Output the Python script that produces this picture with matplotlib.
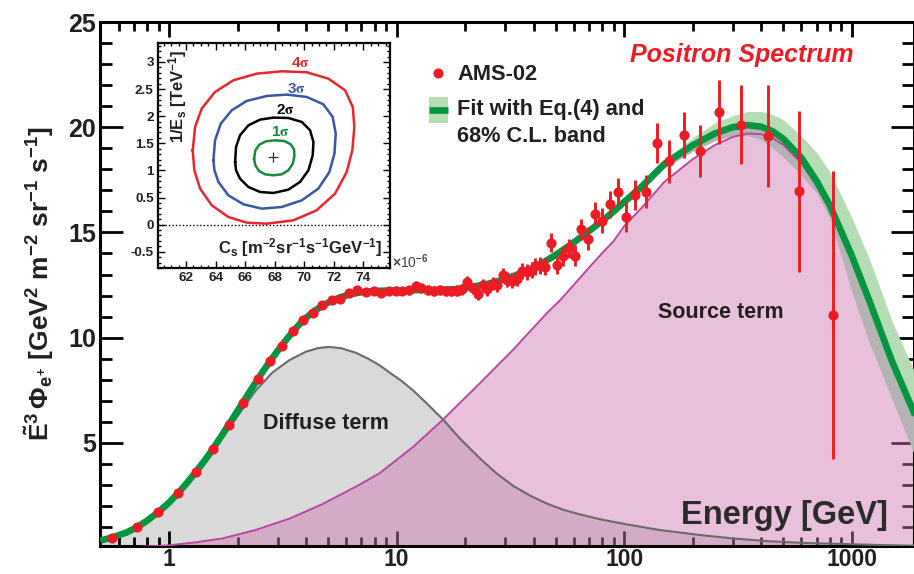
import numpy as np
import matplotlib
matplotlib.use("Agg")
import matplotlib.pyplot as plt
from matplotlib.patches import Rectangle
from matplotlib.ticker import FixedLocator, MultipleLocator, NullFormatter

plt.rcParams["font.family"] = "Liberation Sans"
plt.rcParams["font.weight"] = "bold"
plt.rcParams["axes.labelweight"] = "bold"
plt.rcParams["mathtext.fontset"] = "custom"
plt.rcParams["mathtext.rm"] = "Liberation Sans:bold"
plt.rcParams["mathtext.it"] = "Liberation Sans:bold"
plt.rcParams["mathtext.bf"] = "Liberation Sans:bold"
plt.rcParams["mathtext.sf"] = "Liberation Sans:bold"

# AMS-02 positron points (E in GeV, E^3 flux, error)
ams_e = [0.559, 0.721, 0.894, 1.092, 1.311, 1.562, 1.832, 2.118, 2.449, 2.777,
         3.124, 3.493, 3.866, 4.278, 4.706, 5.188, 5.666, 6.165, 6.733, 7.355,
         7.917, 8.563, 9.250, 9.97, 10.60, 11.33, 12.13, 12.85, 13.74, 14.60,
         15.47, 16.44, 17.42, 18.44, 19.48, 20.41, 21.56, 22.74, 23.85, 24.99,
         26.40, 27.67, 29.22, 30.62, 32.11, 33.68, 35.43, 37.28, 39.21, 40.75,
         42.87, 45.10, 47.54, 50.52, 53.70, 57.25, 60.83, 64.65, 69.20, 74.50,
         80.25, 86.50, 93.80, 102.3, 112.1, 124.7, 139.8, 157.8, 182.5, 215.6,
         260.3, 326.7, 427.9, 588.4, 830.7]
ams_flux = [0.49, 0.98, 1.70, 2.60, 3.60, 4.72, 5.86, 6.90, 8.03, 8.88,
            9.61, 10.31, 10.83, 11.18, 11.54, 11.77, 11.83, 12.10, 12.26, 12.19,
            12.22, 12.13, 12.21, 12.24, 12.22, 12.26, 12.46, 12.38, 12.26, 12.22,
            12.27, 12.22, 12.21, 12.22, 12.30, 12.65, 12.34, 12.07, 12.49, 12.29,
            12.57, 12.49, 12.97, 12.76, 12.70, 12.81, 13.17, 13.13, 13.21, 13.40,
            13.44, 13.38, 14.52, 13.44, 13.87, 14.24, 13.89, 15.15, 14.71, 15.90,
            15.56, 16.33, 16.93, 15.74, 16.77, 16.93, 19.23, 18.38, 19.62, 18.87,
            20.73, 20.11, 19.57, 16.95, 11.07]
ams_err = [0.03, 0.04, 0.05, 0.06, 0.07, 0.08, 0.09, 0.10, 0.10, 0.11,
           0.12, 0.12, 0.13, 0.13, 0.14, 0.15, 0.15, 0.16, 0.17, 0.18,
           0.18, 0.19, 0.20, 0.20, 0.21, 0.21, 0.22, 0.22, 0.23, 0.23,
           0.24, 0.24, 0.25, 0.26, 0.26, 0.27, 0.28, 0.29, 0.29, 0.30,
           0.31, 0.32, 0.33, 0.34, 0.35, 0.36, 0.37, 0.38, 0.39, 0.40,
           0.41, 0.42, 0.45, 0.40, 0.45, 0.45, 0.49, 0.51, 0.55, 0.55,
           0.58, 0.65, 0.64, 0.73, 0.71, 0.79, 0.95, 1.01, 1.09, 1.25,
           1.52, 1.88, 2.42, 3.82, 6.83]

# total fit curve
fit_e = [0.5, 0.56, 0.65, 0.72, 0.8, 0.9, 1.0, 1.1, 1.2, 1.3, 1.45, 1.56, 1.7, 1.83,
         2.0, 2.12, 2.3, 2.45, 2.6, 2.78, 3.0, 3.12, 3.3, 3.5, 3.7, 3.9, 4.3, 4.7,
         5.2, 5.7, 6.2, 7, 8, 10, 12, 15, 18, 20, 25, 30, 35, 40, 45, 50, 60, 70,
         80, 90, 100, 120, 150, 200, 250, 300, 350, 400, 450, 500, 600, 700, 800,
         1000, 1200, 1500, 1900]
fit_val = [0.36, 0.5, 0.74, 0.98, 1.3, 1.72, 2.16, 2.63, 3.1, 3.56, 4.23, 4.72, 5.33, 5.87,
           6.52, 6.95, 7.55, 8.01, 8.43, 8.88, 9.37, 9.6, 9.95, 10.28, 10.58, 10.84, 11.23, 11.5,
           11.76, 11.93, 12.05, 12.16, 12.22, 12.25, 12.26, 12.27, 12.3, 12.36, 12.55, 12.78,
           13.05, 13.33, 13.63, 13.93, 14.52, 15.06, 15.55, 16.0, 16.45, 17.2, 18.25, 19.14,
           19.7, 20.0, 20.1, 20.02, 19.8, 19.45, 18.55, 17.45, 16.3, 13.9, 11.7, 8.9, 6.3]

# 68% C.L. band
band_e = [100, 120, 150, 200, 250, 300, 350, 400, 450, 500, 600, 700, 800, 1000, 1200, 1500, 1900]
band_hi = [16.6, 17.4, 18.45, 19.5, 20.2, 20.55, 20.75, 20.75, 20.6, 20.35, 19.6, 18.8, 17.9,
           15.7, 13.7, 10.8, 8.3]
band_lo = [16.3, 17.0, 18.05, 18.85, 19.35, 19.6, 19.6, 19.4, 19.0, 18.6, 17.7, 16.9, 15.7,
           12.2, 9.7, 7.1, 4.35]

# diffuse term
diff_e = [0.5, 0.6, 0.72, 0.85, 1.0, 1.15, 1.3, 1.45, 1.6, 1.84, 2.1, 2.41, 2.85, 3.38,
          3.99, 4.5, 5.03, 5.7, 6.63, 7.5, 8.41, 9.3, 10.5, 11.8, 13.5, 16.0, 19, 23.3,
          27.5, 32.6, 38.5, 45.6, 54, 64, 80, 100, 143, 216, 300, 425, 600, 955, 1400, 1900]
diff_val = [0.36, 0.6, 0.96, 1.48, 2.1, 2.8, 3.45, 4.1, 4.75, 5.7, 6.6, 7.5, 8.35, 8.93,
            9.33, 9.5, 9.56, 9.5, 9.28, 9.0, 8.69, 8.35, 7.95, 7.5, 6.9, 6.11, 5.2, 4.25,
            3.55, 2.95, 2.5, 2.12, 1.82, 1.6, 1.35, 1.15, 0.86, 0.62, 0.46, 0.33, 0.25, 0.19,
            0.14, 0.11]

# source term
src_e = [0.5, 0.7, 1.0, 1.3, 1.72, 2.4, 3.4, 4.7, 6.6, 8.4, 11.8, 16, 23.3, 32.6, 45.6,
         52.3, 60, 68.4, 78.5, 90, 100, 120, 150, 200, 250, 300, 350, 400, 450, 500, 600,
         700, 800, 1000, 1200, 1500, 1900]
src_val = [0.02, 0.05, 0.13, 0.27, 0.46, 0.86, 1.41, 2.08, 2.91, 3.55, 4.8, 6.11, 7.85, 9.44,
           11.15, 11.78, 12.5, 13.2, 13.92, 14.6, 15.3, 16.2, 17.4, 18.48, 19.15, 19.54, 19.7,
           19.67, 19.48, 19.16, 18.3, 17.22, 16.09, 13.72, 11.54, 8.76, 6.19]

# inset: contours in (C_s [1e-6], 1/E_s [TeV^-1])
c1_x = [66.60, 66.69, 66.96, 67.41, 68.02, 68.63, 69.08, 69.31, 69.33, 69.22, 68.92, 68.47,
        67.91, 67.35, 66.94, 66.69]
c1_y = [1.217, 1.371, 1.475, 1.537, 1.555, 1.543, 1.482, 1.383, 1.260, 1.125, 1.002, 0.928,
        0.910, 0.928, 0.989, 1.094]
c2_x = [65.32, 65.38, 65.65, 66.22, 67.01, 67.91, 68.92, 69.83, 70.39, 70.62, 70.57, 70.28,
        69.71, 68.92, 67.91, 67.01, 66.22, 65.65, 65.38]
c2_y = [1.156, 1.432, 1.648, 1.832, 1.937, 1.974, 1.967, 1.894, 1.740, 1.525, 1.279, 1.002,
        0.787, 0.645, 0.584, 0.602, 0.694, 0.848, 1.002]
c3_x = [63.85, 63.96, 64.35, 65.09, 66.10, 67.46, 68.81, 70.16, 71.29, 71.92, 72.13, 72.04,
        71.70, 70.95, 69.83, 68.47, 67.12, 65.88, 64.86, 64.19, 63.92]
c3_y = [1.186, 1.555, 1.863, 2.109, 2.281, 2.373, 2.398, 2.355, 2.220, 1.986, 1.678, 1.309,
        0.971, 0.664, 0.448, 0.325, 0.295, 0.375, 0.541, 0.787, 1.002]
c4_x = [62.45, 62.61, 63.06, 63.96, 65.20, 66.78, 68.47, 70.16, 71.63, 72.76, 73.28, 73.39,
        73.25, 72.87, 72.08, 70.84, 69.26, 67.46, 66.10, 64.86, 63.74, 62.95, 62.56]
c4_y = [1.371, 1.801, 2.140, 2.447, 2.662, 2.785, 2.828, 2.810, 2.693, 2.478, 2.170, 1.801,
        1.371, 0.971, 0.571, 0.264, 0.079, 0.018, 0.036, 0.141, 0.356, 0.664, 1.002]
best_fit = (67.91, 1.248)
sigma_labels = ["1", "2", "3", "4"]
sigma_label_pos = [(68.36, 1.71), (68.70, 2.11), (69.49, 2.51), (69.71, 2.98)]

RED = "#ec1c24"
GREEN = "#00963f"
TXT = "#231f20"

fig = plt.figure(figsize=(9.14, 5.74), dpi=100)
ax = fig.add_axes([100 / 914, 28 / 574, 814 / 914, 524 / 574])
ax.set_xscale("log")
ax.set_xlim(0.4975, 1877)
ax.set_ylim(0.1, 25)

fit_e_arr = np.array(fit_e)
fit_val_arr = np.array(fit_val)
fit_on_band = fit_val_arr[np.isin(fit_e_arr, band_e)]

ax.fill_between(diff_e, 0, diff_val, color="#d9d9d9", lw=0, zorder=1)
ax.fill_between(src_e, 0, src_val, color="#ce75b1", alpha=0.45, lw=0, zorder=2)
ax.plot(diff_e, diff_val, color="#6a6a6a", lw=1.5, zorder=3)
ax.fill_between(band_e, band_lo, fit_on_band, color="#b3b3b3", lw=0, zorder=3.2)
ax.fill_between(band_e, fit_on_band, band_hi, color="#b6dcb4", lw=0, zorder=3.2)
ax.plot(src_e, src_val, color="#b9479f", lw=1.4, zorder=3.5)
ax.plot(fit_e, fit_val, color=GREEN, lw=4.8, zorder=4, solid_capstyle="butt")
ax.errorbar(ams_e, ams_flux, yerr=ams_err, fmt="o", color=RED, ms=6.3, elinewidth=2.1,
            capsize=0, zorder=5)

ax.set_xticks([1, 10, 100, 1000])
ax.set_xticklabels(["1", "10", "100", "1000"])
minor_x = [m * 10.0 ** k for k in range(-1, 4) for m in range(2, 10)]
ax.xaxis.set_minor_locator(FixedLocator(minor_x))
ax.xaxis.set_minor_formatter(NullFormatter())
ax.set_yticks([5, 10, 15, 20, 25])
ax.yaxis.set_minor_locator(MultipleLocator(1))
ax.tick_params(which="both", direction="in", top=True, right=True, width=2.0,
               labelcolor=TXT)
ax.xaxis.set_tick_params(which="major", length=10.8, pad=1.5, labelsize=16.5)
ax.xaxis.set_tick_params(which="minor", length=6.5)
ax.yaxis.set_tick_params(which="major", length=16.5, pad=3, labelsize=18)
ax.yaxis.set_tick_params(which="minor", length=8.6)
for s in ax.spines.values():
    s.set_linewidth(2.2)

ax.set_ylabel(r"$\tilde{E}^{3}\,\Phi_{e^{+}}$ [GeV$^{2}$ m$^{-2}$ sr$^{-1}$ s$^{-1}$]",
              fontsize=19, color=TXT, fontweight="bold")
ax.yaxis.set_label_coords(-0.054, 0.5)

ax.text(4.87, 5.94, "Diffuse term", fontsize=15.5, color=TXT, ha="center", va="center", zorder=6)
ax.text(266, 11.2, "Source term", fontsize=15.5, color=TXT, ha="center", va="center", zorder=6)
ax.text(0.968, 0.059, "Energy [GeV]", transform=ax.transAxes, fontsize=23.5, color="#2b2b2b",
        ha="right", va="center", zorder=6)
ax.text(0.7887, 0.937, "Positron Spectrum", transform=ax.transAxes, fontsize=18, color=RED,
        style="italic", ha="center", va="center", zorder=6)

# legend drawn by hand
ax.plot([0.4152], [0.9027], "o", color=RED, ms=6.3, transform=ax.transAxes, zorder=6)
ax.text(0.4386, 0.8989, "AMS-02", transform=ax.transAxes, fontsize=15.7, color=TXT,
        va="center", zorder=6)
ax.add_patch(Rectangle((0.4042, 0.8073), 0.0233, 0.0496, transform=ax.transAxes,
                       color="#b6dcb4", lw=0, zorder=6))
ax.plot([0.4042, 0.4275], [0.8321, 0.8321], color=GREEN, lw=4.8, transform=ax.transAxes,
        solid_capstyle="butt", zorder=6)
ax.text(0.4386, 0.8321, "Fit with Eq.(4) and", transform=ax.transAxes, fontsize=15.7,
        color=TXT, va="center", zorder=6)
ax.text(0.4386, 0.7824, "68% C.L. band", transform=ax.transAxes, fontsize=15.7,
        color=TXT, va="center", zorder=6)

# inset
ins = fig.add_axes([158 / 914, (574 - 268) / 574, 232 / 914, 225 / 574])
ins.set_xlim(60.1, 75.8)
ins.set_ylim(-0.8, 3.35)
ins.axhline(0, color="black", lw=1.0, ls=(0, (1, 1.5)))
for cx, cy, col in [(c1_x, c1_y, "#178a3c"), (c2_x, c2_y, "black"),
                    (c3_x, c3_y, "#3b56a5"), (c4_x, c4_y, "#e8262d")]:
    ins.plot(np.r_[cx, cx[:1]], np.r_[cy, cy[:1]], color=col, lw=1.8, solid_joinstyle="round")
ins.plot([best_fit[0]], [best_fit[1]], marker="+", color="#333333", ms=7, mew=0.9)
for lab, (lx, ly), col in zip(sigma_labels, sigma_label_pos,
                              ["#178a3c", "black", "#3b56a5", "#e8262d"]):
    ins.text(lx, ly, lab + r"$\mathrm{\sigma}$", color=col, fontsize=11, ha="center",
             va="center", math_fontfamily="stix")

ins.set_xticks([62, 64, 66, 68, 70, 72, 74])
ins.set_xticklabels(["62", "64", "66", "68", "70", "72", "74"])
ins.xaxis.set_minor_locator(MultipleLocator(0.5))
ins.set_yticks([-0.5, 0, 0.5, 1, 1.5, 2, 2.5, 3])
ins.set_yticklabels(["-0.5", "0", "0.5", "1", "1.5", "2", "2.5", "3"])
ins.yaxis.set_minor_locator(MultipleLocator(0.1))
ins.tick_params(which="both", direction="in", top=True, right=True, width=1.0,
                labelsize=9.7, labelcolor=TXT, pad=3)
ins.tick_params(which="major", length=5)
ins.tick_params(which="minor", length=2.5)
for s in ins.spines.values():
    s.set_linewidth(1.6)

ins.text(0.086, 0.969, r"1/E$_{s}$ [TeV$^{-1}$]", transform=ins.transAxes, rotation=90,
         fontsize=12, color=TXT, ha="center", va="top")
ins.text(0.9655, 0.093, r"C$_{s}$ [m$^{-2}$sr$^{-1}$s$^{-1}$GeV$^{-1}$]", transform=ins.transAxes,
         fontsize=12, color=TXT, ha="right", va="center")
ins.text(1.009, 0.027, r"$\times$10$^{-6}$", transform=ins.transAxes, fontsize=10,
         color="#444444", fontweight="normal", ha="left", va="center", clip_on=False)

fig.savefig("out.png", dpi=100)
